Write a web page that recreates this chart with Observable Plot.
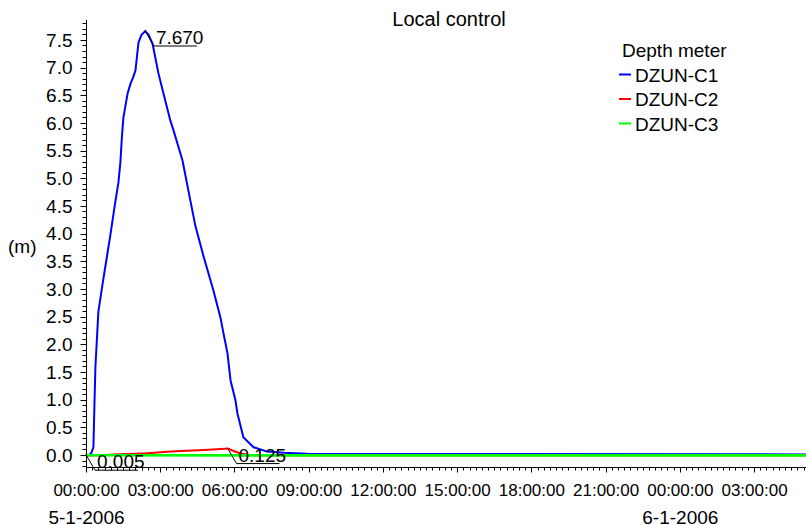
<!DOCTYPE html>
<html><head><meta charset="utf-8">
<script src="https://cdn.jsdelivr.net/npm/d3@7"></script>
<script src="https://cdn.jsdelivr.net/npm/@observablehq/plot@0.6"></script>
<style>body{margin:0;background:#fff} svg{display:block}</style>
</head><body><div id="chart"></div>
<script>
const chartTitle = "Local control";
const yLabel = "(m)";
const legendTitle = "Depth meter";
const seriesNames = ["DZUN-C1", "DZUN-C2", "DZUN-C3"];
const seriesColors = ["#0000ff", "#ff0000", "#00ff00"];
const startDate = new Date("2006-01-05T00:00:00Z");
const endHours = 29.1;

// hours since start, depth in m
const c1Hours = [0, 0.12, 0.20, 0.28, 0.32, 0.36, 0.48, 0.65, 0.81, 0.97, 1.17, 1.29, 1.37, 1.43, 1.49, 1.66, 1.78, 1.90, 1.98, 2.10, 2.22, 2.38, 2.51, 2.67, 2.91, 3.19, 3.39, 3.52, 3.88, 4.20, 4.40, 4.73, 5.13, 5.41, 5.54, 5.70, 5.82, 6.02, 6.10, 6.34, 6.75, 7.31, 7.96, 8.93, 29.1];
const c1Depth = [0, 0.01, 0.05, 0.15, 0.9, 1.6, 2.6, 3.1, 3.55, 4.0, 4.6, 4.93, 5.3, 5.75, 6.1, 6.54, 6.72, 6.85, 6.96, 7.46, 7.6, 7.67, 7.6, 7.44, 6.9, 6.4, 6.05, 5.87, 5.33, 4.6, 4.15, 3.6, 2.98, 2.5, 2.2, 1.84, 1.36, 1.0, 0.76, 0.33, 0.15, 0.07, 0.05, 0.03, 0.02];
const c2Hours = [0, 0.6, 1.1, 2.46, 3.4, 4.73, 5.6, 5.72, 5.9, 6.2, 6.5, 7.0, 29.1];
const c2Depth = [0, 0.005, 0.02, 0.04, 0.07, 0.10, 0.122, 0.125, 0.09, 0.04, 0.015, 0.005, 0.003];
const c3Hours = [0, 6, 12, 29.1];
const c3Depth = [0.005, 0.003, 0.002, 0.002];

const yMin = -0.217, yMax = 7.86;
const yMajorTicks = [0, 0.5, 1, 1.5, 2, 2.5, 3, 3.5, 4, 4.5, 5, 5.5, 6, 6.5, 7, 7.5];
const yMinorTicks = d3.range(-2, 79).map(i => i / 10);

// peak annotations
const annLabels = ["7.670", "0.005", "0.125"];
const annHours = [2.38, 0, 5.72];
const annValues = [7.67, 0.005, 0.125];

const toDate = h => new Date(+startDate + h * 3600e3);
const endDate = toDate(endHours);
const mk = (hs, vs) => hs.map((h, i) => ({t: toDate(h), v: vs[i]}));
const c1 = mk(c1Hours, c1Depth), c2 = mk(c2Hours, c2Depth), c3 = mk(c3Hours, c3Depth);
const anns = annLabels.map((l, i) => ({label: l, t: toDate(annHours[i]), v: annValues[i]}));

const font = "'Liberation Sans', Arial, Helvetica, sans-serif";
const minorX = d3.utcMinute.every(15).range(startDate, new Date(+endDate + 1));
const majorX = d3.utcHour.every(3).range(startDate, new Date(+endDate + 1));
const dayX = d3.utcDay.range(startDate, new Date(+endDate + 1));

const chart = Plot.plot({
  width: 806, height: 525,
  marginLeft: 86, marginRight: 0, marginTop: 20, marginBottom: 58,
  style: {fontFamily: font, fontSize: "19px", color: "black", background: "white"},
  x: {type: "utc", domain: [startDate, endDate]},
  y: {domain: [yMin, yMax]},
  marks: [
    Plot.axisY(yMajorTicks, {tickSize: 0, tickPadding: 14, tickFormat: d3.format(".1f"), fontSize: 19, label: null}),
    Plot.axisX(majorX, {tickSize: 0, tickPadding: 16, tickFormat: d3.utcFormat("%H:%M:%S"), fontSize: 17, label: null}),
    Plot.axisX(dayX, {tickSize: 0, tickPadding: 43, tickFormat: d3.utcFormat("%-d-%-m-%Y"), fontSize: 19, label: null}),
    Plot.line(c1, {x: "t", y: "v", stroke: seriesColors[0], strokeWidth: 2}),
    Plot.line(c2, {x: "t", y: "v", stroke: seriesColors[1], strokeWidth: 2}),
    Plot.line(c3, {x: "t", y: "v", stroke: seriesColors[2], strokeWidth: 2.6})
  ]
});
document.getElementById("chart").appendChild(chart);

// overlay: axis lines, ticks, annotations, title, axis label and legend, positioned through the plot's scales
const sx = chart.scale("x"), sy = chart.scale("y");
const X = v => sx.apply(v), Y = v => sy.apply(v);
const crisp = v => Math.round(v) + 0.5;
const g = d3.select(chart).append("g").attr("font-family", font).attr("fill", "black").attr("text-anchor", "start");
const x0 = crisp(X(startDate)), x1 = X(endDate), yb = crisp(Y(yMin)), yt = Y(yMax);
let d = `M${x0},${yt}V${yb}M${x0},${yb}H${x1}`;
for (const v of yMinorTicks) d += `M${x0 - 4},${crisp(Y(v))}H${x0}`;
for (const v of yMajorTicks) d += `M${x0 - 6},${crisp(Y(v))}H${x0}`;
for (const t of minorX) d += `M${crisp(X(t))},${yb}V${yb + 3}`;
for (const t of majorX) d += `M${crisp(X(t))},${yb}V${yb + 5}`;
g.append("path").attr("d", d).attr("fill", "none").attr("stroke", "black").attr("stroke-width", 1);
for (const a of anns) {
  const px = X(a.t), py = Y(a.v);
  g.append("path").attr("d", `M${px},${py}L${px + 9},${py + 15.5}h43`).attr("fill", "none").attr("stroke", "black").attr("stroke-width", 1);
  g.append("text").attr("x", px + 11).attr("y", py + 13.5).attr("font-size", 19).text(a.label);
}
g.append("text").attr("x", 449).attr("y", 26).attr("text-anchor", "middle").attr("font-size", 20).text(chartTitle);
g.append("text").attr("x", 8).attr("y", 253).attr("font-size", 19).text(yLabel);
g.append("text").attr("x", 622).attr("y", 57).attr("font-size", 19).text(legendTitle);
seriesNames.forEach((n, i) => {
  const cy = 74.5 + i * 24.5;
  g.append("line").attr("x1", 619).attr("x2", 631).attr("y1", cy).attr("y2", cy).attr("stroke", seriesColors[i]).attr("stroke-width", 2);
  g.append("text").attr("x", 635).attr("y", cy + 7).attr("font-size", 19).text(n);
});
</script>
</body></html>
